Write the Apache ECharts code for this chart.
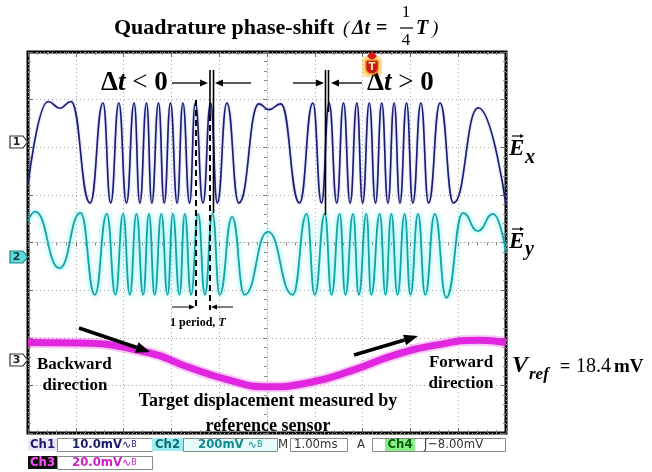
<!DOCTYPE html>
<html>
<head>
<meta charset="utf-8">
<script src="https://cdn.jsdelivr.net/npm/echarts@6/dist/echarts.min.js"></script>
<style>
html, body { margin: 0; padding: 0; background: #fff; }
#chart { width: 652px; height: 472px; }
</style>
</head>
<body>
<div id="chart"></div>
<script>
// scope screen: 1.00 ms/div, t = 0 at the centre line, amplitudes in divisions
// Ch1 (Ex): peaks and troughs
var ch1Time = [-5.00, -4.58, -4.33, -4.10, -3.70,
    -3.43, -3.27, -3.10, -2.94, -2.78, -2.66, -2.52, -2.41, -2.27, -2.15,
    -2.02, -1.88, -1.76, -1.62, -1.50, -1.34, -1.18, -1.04, -0.84, -0.59,
    -0.17, 0.04, 0.29, 0.68,
    0.96, 1.14, 1.30, 1.46, 1.60, 1.74, 1.88, 2.00, 2.14, 2.27,
    2.40, 2.53, 2.66, 2.78, 2.92, 3.05, 3.22, 3.38, 3.62, 3.90,
    4.42, 5.00]
var ch1Div = [1.21, 2.96, 2.82, 2.96, 0.83,
    2.93, 0.83, 2.93, 0.83, 2.93, 0.83, 2.93, 0.83, 2.93, 0.83,
    2.93, 0.83, 2.93, 0.83, 2.93, 0.83, 2.93, 0.83, 2.93, 0.83,
    2.91, 2.79, 2.91, 0.83,
    2.93, 0.83, 2.93, 0.83, 2.93, 0.83, 2.93, 0.83, 2.93, 0.83,
    2.93, 0.83, 2.93, 0.83, 2.93, 0.83, 2.93, 0.83, 2.93, 0.83,
    2.83, 0.79]

// Ch2 (Ey)
var ch2Time = [-5.00, -4.85, -4.34, -3.90, -3.60,
    -3.35, -3.17, -3.01, -2.87, -2.73, -2.59, -2.47, -2.35, -2.21,
    -2.08, -1.97, -1.83, -1.72, -1.59, -1.44, -1.30, -1.14, -0.99,
    -0.73, -0.47, 0.02, 0.54,
    0.83, 1.00, 1.21, 1.35, 1.52, 1.64, 1.80, 1.92, 2.08, 2.18,
    2.36, 2.48, 2.60, 2.73, 2.88, 3.00, 3.16, 3.31, 3.51,
    3.75, 4.10, 4.41, 4.73, 5.00]
var ch2Div = [0.44, 0.65, -0.54, 0.62, -1.10,
    0.60, -1.10, 0.60, -1.10, 0.60, -1.10, 0.60, -1.10, 0.60,
    -1.10, 0.60, -1.10, 0.60, -1.10, 0.60, -1.10, 0.60, -1.10,
    0.54, -1.10, 0.23, -1.10,
    0.60, -1.10, 0.60, -1.10, 0.60, -1.10, 0.60, -1.10, 0.60, -1.10,
    0.60, -1.10, 0.60, -1.10, 0.60, -1.10, 0.60, -1.10, 0.60,
    -1.16, 0.62, 0.24, 0.60, -0.19]

// Ch3 (reference sensor)
var ch3Time = [-5.00, -3.93, -2.45, -1.67, -0.79, 0.00, 0.94, 1.80, 2.68, 3.56, 4.42, 5.00]
var ch3Div = [-2.10, -2.11, -2.32, -2.61, -2.89, -3.03, -2.93, -2.68, -2.36, -2.15, -2.05, -2.10]

var zip = function (xs, ys) { return xs.map(function (x, i) { return [x, ys[i]] }) }

var SERIF = '"Liberation Serif", "DejaVu Serif", serif'
var MONO = '"DejaVu Sans Condensed", "DejaVu Sans", sans-serif'

function txt(x, y, text, font, fill, align) {
    return {
        type: 'text', x: x, y: y, z: 100,
        style: { text: text, font: font, fill: fill || '#000', textAlign: align || 'left', textVerticalAlign: 'middle' }
    }
}
function richTxt(x, y, text, rich) {
    return {
        type: 'text', x: x, y: y, z: 100,
        style: { text: text, rich: rich, fill: '#000', textAlign: 'left', textVerticalAlign: 'middle' }
    }
}
function seg(x1, y1, x2, y2, w, dash) {
    return {
        type: 'line', z: 100,
        shape: { x1: x1, y1: y1, x2: x2, y2: y2 },
        style: { stroke: '#000', lineWidth: w || 1.5, lineDash: dash || null }
    }
}
function arrow(x1, y1, x2, y2, w, head, hw) {
    var a = Math.atan2(y2 - y1, x2 - x1)
    var bx = x2 - head * Math.cos(a), by = y2 - head * Math.sin(a)
    return [
        seg(x1, y1, bx, by, w),
        {
            type: 'polygon', z: 100,
            shape: { points: [[x2, y2], [bx - hw * Math.sin(a), by + hw * Math.cos(a)], [bx + hw * Math.sin(a), by - hw * Math.cos(a)]] },
            style: { fill: '#000' }
        }
    ]
}
function box(x, y, w, h, fill, stroke) {
    return { type: 'rect', z: 90, shape: { x: x, y: y, width: w, height: h }, style: { fill: fill, stroke: stroke || null, lineWidth: 1 } }
}
function chanMark(y, label, fill, stroke, color) {
    return [
        { type: 'polygon', z: 100, shape: { points: [[10, y - 6], [23, y - 6], [27.5, y], [23, y + 6], [10, y + 6]] }, style: { fill: fill, stroke: stroke, lineWidth: 1.2 } },
        txt(16.5, y + 0.5, label, 'bold 11px "DejaVu Sans"', color, 'center')
    ]
}

var bi = 'italic bold '
var graphics = [].concat(
    // title
    txt(114, 28, 'Quadrature phase-shift', 'bold 22px ' + SERIF),
    txt(343, 29, '(', 'italic 19px ' + SERIF),
    txt(352, 29, 'Δt', bi + '20px ' + SERIF),
    txt(376, 29, '=', 'bold 20px ' + SERIF),
    txt(406, 13, '1', '17px ' + SERIF, '#000', 'center'),
    seg(400, 28, 413, 28, 1.2),
    txt(406, 41, '4', '17px ' + SERIF, '#000', 'center'),
    txt(416, 29, 'T', bi + '20px ' + SERIF),
    txt(432, 29, ')', 'italic 19px ' + SERIF),

    // delta t markers
    richTxt(101, 83, '{a|Δ}{b|t}{c| < }{a|0}', {
        a: { font: 'bold 27px ' + SERIF }, b: { font: bi + '27px ' + SERIF }, c: { font: '27px ' + SERIF }
    }),
    richTxt(367, 83, '{a|Δ}{b|t}{c| > }{a|0}', {
        a: { font: 'bold 27px ' + SERIF }, b: { font: bi + '27px ' + SERIF }, c: { font: '27px ' + SERIF }
    }),
    arrow(172, 83, 208, 83, 1.3, 8, 3.5),
    arrow(251, 83, 215, 83, 1.3, 8, 3.5),
    seg(210, 70, 210, 115, 1.6),
    seg(213.5, 70, 213.5, 213, 1.6),
    seg(196, 100, 196, 310, 2, [6, 4]),
    seg(210, 115, 210, 310, 2, [6, 4]),
    arrow(293, 83, 324, 83, 1.3, 8, 3.5),
    arrow(362, 83, 331, 83, 1.3, 8, 3.5),
    seg(325.5, 70, 325.5, 215, 1.6),
    seg(328.5, 70, 328.5, 112, 1.6),
    arrow(172, 307, 195, 307, 1, 6, 2.5),
    arrow(233, 307, 211, 307, 1, 6, 2.5),
    richTxt(170, 323, '{a|1 period, }{b|T}', {
        a: { font: 'bold 12px ' + SERIF }, b: { font: bi + '12px ' + SERIF }
    }),

    // trace labels
    txt(509, 149, 'E', bi + '23px ' + SERIF),
    arrow(512, 136, 524, 136, 1.2, 4, 2),
    txt(525, 158, 'x', bi + '20px ' + SERIF),
    txt(509, 242, 'E', bi + '23px ' + SERIF),
    arrow(512, 229, 524, 229, 1.2, 4, 2),
    txt(525, 250, 'y', bi + '20px ' + SERIF),
    txt(512, 366, 'V', bi + '24px ' + SERIF),
    txt(529, 375, 'ref', bi + '17px ' + SERIF),
    txt(560, 367, '=', 'bold 18px ' + SERIF),
    txt(576, 367, '18.4', '20px ' + SERIF),
    txt(614, 367, 'mV', 'bold 19px ' + SERIF),

    // direction notes
    arrow(79, 328, 150, 352, 3.5, 14, 5.5),
    arrow(354, 355, 418, 336, 3.5, 14, 5.5),
    txt(37, 365, 'Backward', 'bold 17px ' + SERIF),
    txt(75, 386, 'direction', 'bold 17px ' + SERIF, '#000', 'center'),
    txt(461, 363, 'Forward', 'bold 17px ' + SERIF, '#000', 'center'),
    txt(461, 384, 'direction', 'bold 17px ' + SERIF, '#000', 'center'),
    txt(268, 401, 'Target displacement measured by', 'bold 18px ' + SERIF, '#000', 'center'),
    txt(268, 426, 'reference sensor', 'bold 18px ' + SERIF, '#000', 'center'),

    // channel ground markers
    chanMark(142, '1', '#fff', '#333', '#222'),
    chanMark(257, '2', '#5fd9d9', '#17888a', '#0b3c3c'),
    chanMark(360, '3', '#fff', '#333', '#222'),

    // trigger position marker
    { type: 'rect', z: 95, shape: { x: 362, y: 56, width: 20, height: 21, r: 5 }, style: { fill: 'rgba(255,190,60,0.55)' } },
    { type: 'polygon', z: 100, shape: { points: [[372, 51], [377, 56], [372, 61], [367, 56]] }, style: { fill: '#d21a1a' } },
    { type: 'rect', z: 100, shape: { x: 365.5, y: 60, width: 13, height: 14, r: [2, 2, 6, 6] }, style: { fill: '#c8191b', stroke: '#f3a21f', lineWidth: 1.5 } },
    txt(372, 67.5, 'T', 'bold 10px "DejaVu Sans"', '#ffe9a8', 'center'),

    // status readout
    box(28, 438, 29, 13, '#ebe8f5'),
    txt(42.5, 445, 'Ch1', 'bold 13px ' + MONO, '#1c1c6e', 'center'),
    box(57.5, 438.5, 95, 13, '#fff', '#888'),
    richTxt(72, 445, '{a|10.0mV}{b|∿}{c|B}', {
        a: { font: 'bold 13px ' + MONO, fill: '#1c1c6e' }, b: { font: '11px "DejaVu Sans"', fill: '#1c1c6e' }, c: { font: '8px "DejaVu Sans"', fill: '#1c1c6e' }
    }),
    box(152, 438, 31, 13, '#9eecef'),
    txt(167.5, 445, 'Ch2', 'bold 13px ' + MONO, '#0b6e73', 'center'),
    box(183.5, 438.5, 94, 13, '#e8fbfb', '#888'),
    richTxt(198, 445, '{a|200mV }{b|∿}{c|B}', {
        a: { font: 'bold 13px ' + MONO, fill: '#0c8c8f' }, b: { font: '11px "DejaVu Sans"', fill: '#0c8c8f' }, c: { font: '8px "DejaVu Sans"', fill: '#0c8c8f' }
    }),
    txt(278, 445, 'M', '13px ' + MONO, '#333'),
    box(290.5, 438.5, 57, 13, '#fff', '#888'),
    txt(294, 445, '1.00ms', '13px ' + MONO, '#333'),
    txt(357, 445, 'A', '13px ' + MONO, '#333'),
    box(372.5, 438.5, 133, 13, '#fff', '#888'),
    box(385, 439, 30, 12, '#86f086'),
    txt(400, 445, 'Ch4', 'bold 13px ' + MONO, '#0c5a0c', 'center'),
    txt(424, 445, 'ʃ−8.00mV', '13px ' + MONO, '#333'),
    box(28, 456, 29, 13, '#111'),
    txt(42.5, 463, 'Ch3', 'bold 13px ' + MONO, '#ff4cff', 'center'),
    box(57.5, 456.5, 95, 13, '#fff', '#888'),
    richTxt(72, 463, '{a|20.0mV}{b|∿}{c|B}', {
        a: { font: 'bold 13px ' + MONO, fill: '#cc1fc4' }, b: { font: '11px "DejaVu Sans"', fill: '#cc1fc4' }, c: { font: '8px "DejaVu Sans"', fill: '#cc1fc4' }
    })
)

var dots = { color: '#a8a8a8', width: 1, type: [1, 3] }
function axisBase(min, max, pos, extra) {
    return Object.assign({
        type: 'value', min: min, max: max, interval: 1, position: pos,
        axisLine: { show: false, onZero: false },
        axisTick: { show: true, inside: true, length: 5, lineStyle: { color: '#666' } },
        minorTick: { show: true, splitNumber: 5, length: 3, lineStyle: { color: '#888' } },
        axisLabel: { show: false },
        splitLine: { show: false }
    }, extra || {})
}

var option = {
    animation: false,
    grid: {
        left: 28, top: 52, right: 146, bottom: 39,
        show: true, borderColor: '#000', borderWidth: 3, backgroundColor: '#fff'
    },
    xAxis: [
        axisBase(-5, 5, 'bottom', { splitLine: { show: true, lineStyle: dots } }),
        axisBase(-5, 5, 'top'),
        axisBase(-5, 5, 'bottom', { axisLine: { show: true, onZero: true, lineStyle: dots }, axisTick: { show: true, length: 4, lineStyle: { color: '#777' } } })
    ],
    yAxis: [
        axisBase(-4, 4, 'left', { splitLine: { show: true, lineStyle: dots } }),
        axisBase(-4, 4, 'right'),
        axisBase(-4, 4, 'left', { axisLine: { show: true, onZero: true, lineStyle: dots }, axisTick: { show: true, length: 4, lineStyle: { color: '#777' } } })
    ],
    series: [
        {
            name: 'Ch3 halo', type: 'line', data: zip(ch3Time, ch3Div), smooth: true,
            symbol: 'none', lineStyle: { color: 'rgba(232,70,232,0.28)', width: 11 }, z: 2
        },
        {
            name: 'Ch3', type: 'line', data: zip(ch3Time, ch3Div), smooth: true,
            symbol: 'none', lineStyle: { color: '#e126df', width: 7 }, z: 3
        },
        {
            name: 'Ch2', type: 'line', data: zip(ch2Time, ch2Div), smooth: 0.5, smoothMonotone: 'x',
            symbol: 'none',
            lineStyle: { color: '#14a2a6', width: 1.8, shadowBlur: 5, shadowColor: 'rgba(60,235,235,0.95)' }, z: 4
        },
        {
            name: 'Ch1', type: 'line', data: zip(ch1Time, ch1Div), smooth: 0.5, smoothMonotone: 'x',
            symbol: 'none',
            lineStyle: { color: '#1d1d6b', width: 1.6, shadowBlur: 2, shadowColor: 'rgba(80,110,230,0.6)' }, z: 5
        }
    ],
    graphic: graphics
}

var chart = echarts.init(document.getElementById('chart'))
chart.setOption(option)
</script>
</body>
</html>
